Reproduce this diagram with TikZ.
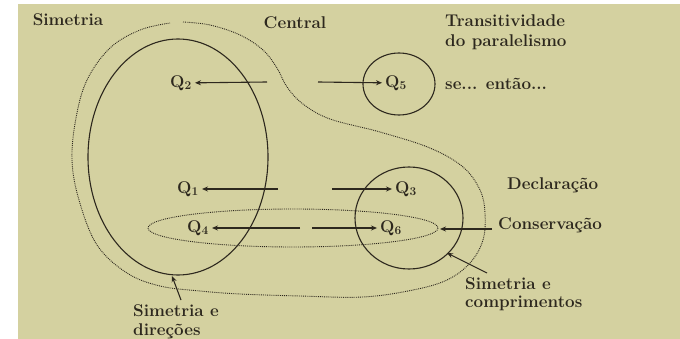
\documentclass[tikz,border=0pt]{standalone}
\usetikzlibrary{arrows.meta}
\definecolor{paper}{RGB}{212,209,160}
\definecolor{ink}{RGB}{45,40,30}
\begin{document}
\begin{tikzpicture}[x=1pt,y=-1pt,
  lbl/.style={font=\fontsize{17}{20}\selectfont\bfseries, text=ink, inner sep=0pt},
  qlbl/.style={font=\fontsize{17}{20}\selectfont\bfseries, text=ink, inner sep=3pt},
  solidline/.style={draw=ink, line width=1.1pt},
  dotline/.style={draw=ink, line width=0.9pt, densely dotted},
  arr/.style={draw=ink, line width=1.1pt, -{Stealth[length=6pt,width=5pt]}}]
\useasboundingbox (0,0) rectangle (680,339);
\fill[white] (0,0) rectangle (680,339);
\fill[paper] (18,4) rectangle (680,339);

% outer dotted curve
\draw[dotline] plot[smooth, tension=0.6] coordinates {
 (183,22) (210,25) (240,35) (263,50) (277,68) (287,87) (303,104) (330,119)
 (380,132) (430,148) (463,167) (480,190) (485,213) (483,240) (470,263)
 (447,280) (413,290) (363,297) (300,296) (240,294) (200,291) (160,286)
 (127,273) (97,245) (79,200) (72,160) (76,118) (87,80) (110,48) (140,30) (170,23)};

% shapes
\draw[solidline] (178,157) ellipse [x radius=90, y radius=118];
\draw[solidline] (399,84) ellipse [x radius=36, y radius=31];
\draw[solidline] (409,218) ellipse [x radius=54, y radius=51];
\draw[dotline] (293,228) ellipse [x radius=145, y radius=19];

% texts
\node[lbl] (sim) at (68,20) {Simetria};
\node[lbl] (cen) at (295,23) {Central};
\node[lbl, align=left, anchor=west] (tra) at (445,32) {Transitividade\\do paralelismo};
\node[lbl, anchor=west] (se) at (445,84) {se... então...};
\node[lbl, anchor=west] (dec) at (507,185) {Declaração};
\node[lbl, anchor=west] (con) at (498,225) {Conservação};
\node[lbl, align=left, anchor=west, font=\fontsize{17}{18}\selectfont\bfseries] (simc) at (465,294) {Simetria e\\comprimentos};
\node[lbl, align=left, anchor=west, font=\fontsize{17}{19}\selectfont\bfseries] (simd) at (133,322) {Simetria e\\direções};

% Q labels
\node[qlbl] (Q2) at (181,83) {Q\textsubscript{2}};
\node[qlbl] (Q5) at (396,83) {Q\textsubscript{5}};
\node[qlbl] (Q1) at (188,189) {Q\textsubscript{1}};
\node[qlbl] (Q3) at (406,189) {Q\textsubscript{3}};
\node[qlbl] (Q4) at (198,228) {Q\textsubscript{4}};
\node[qlbl] (Q6) at (391,228) {Q\textsubscript{6}};

% arrow tails and tips
\coordinate (a2) at (267,82);
\coordinate (a5) at (318,82);
\coordinate (a1) at (278,189);
\coordinate (a3) at (332,189);
\coordinate (a4) at (300,228);
\coordinate (a6) at (312,228);
\coordinate (cs) at (492,229);
\coordinate (ct) at (440,229);
\coordinate (ms) at (487,273);
\coordinate (mt) at (447,253);
\coordinate (ds) at (181,300);
\coordinate (dt) at (172,276);

\draw[arr] (a2) -- (Q2);
\draw[arr] (a5) -- (Q5);
\draw[arr] (a1) -- (Q1);
\draw[arr] (a3) -- (Q3);
\draw[arr] (a4) -- (Q4);
\draw[arr] (a6) -- (Q6);
\draw[arr] (cs) -- (ct);
\draw[arr] (ms) -- (mt);
\draw[arr] (ds) -- (dt);
\end{tikzpicture}
\end{document}
